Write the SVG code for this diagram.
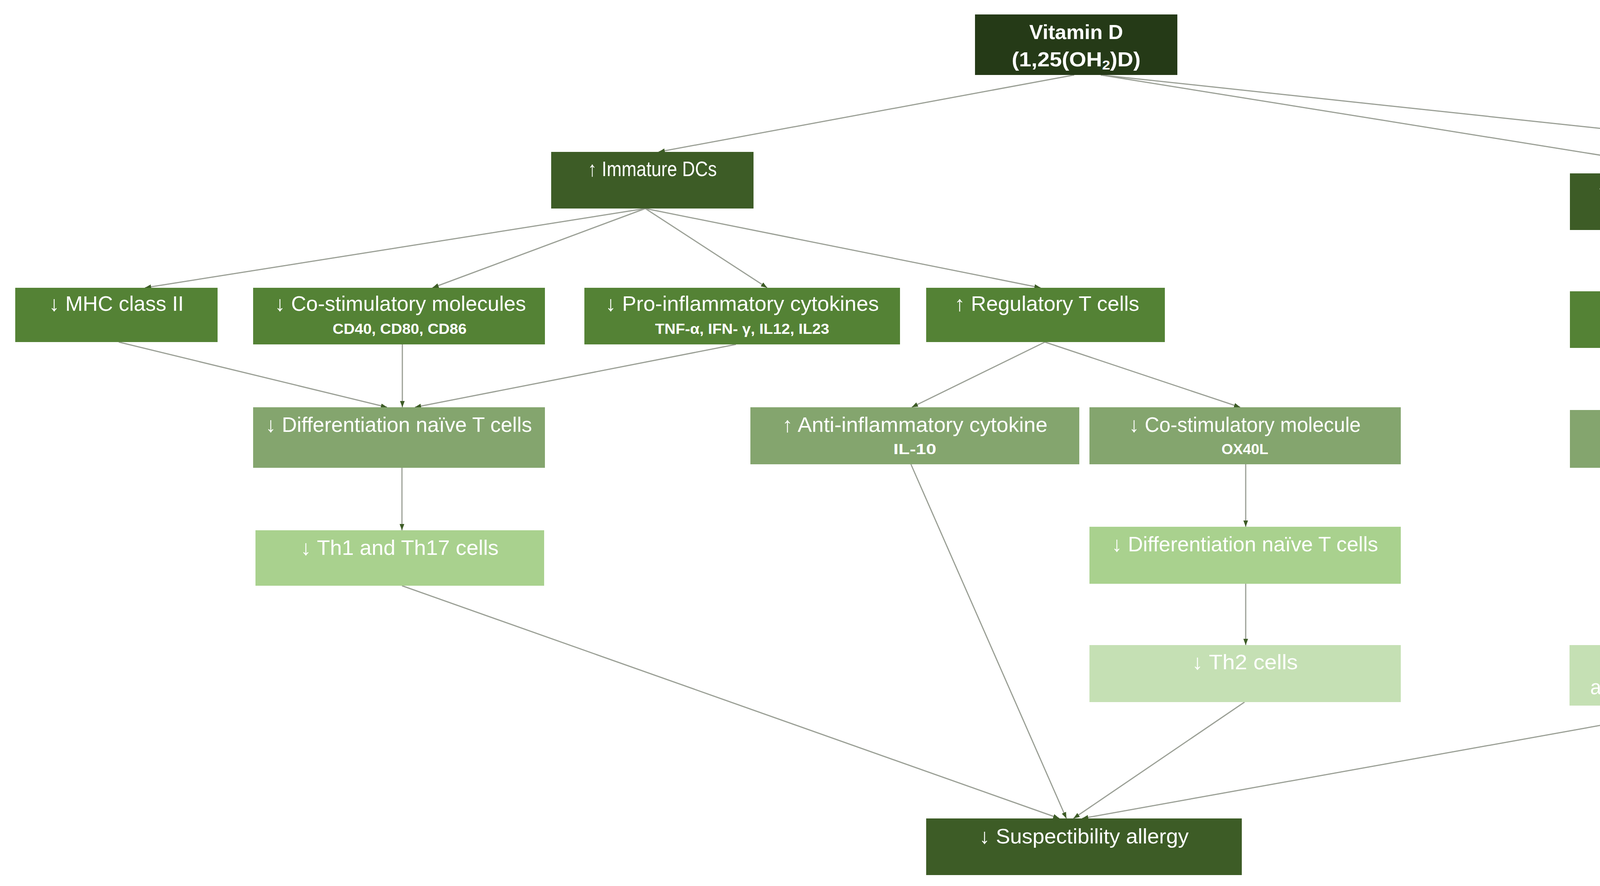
<svg xmlns="http://www.w3.org/2000/svg" width="5602" height="2269" viewBox="0 0 5602 2269">
<style>
text{font-family:"Liberation Sans Narrow","Liberation Sans",Arial,sans-serif;fill:#fff;text-anchor:middle}
.t{font-size:54px}
.s{font-size:36px;font-weight:bold}
.b{font-size:52px;font-weight:bold}
.c0{fill:#253A17}.c1{fill:#3D5C26}.c2{fill:#548235}.c3{fill:#84A56E}.c4{fill:#A9D18E}.c5{fill:#C5E0B4}
#edges line{stroke:#9A9F95;stroke-width:3;marker-end:url(#ah)}
</style>
<defs>
<marker id="ah" markerUnits="userSpaceOnUse" markerWidth="16" markerHeight="24" refX="16" refY="8" orient="auto" viewBox="0 0 16 16">
<path d="M0,2 L16,8 L0,14 Z" fill="#3D5C26"/>
</marker>
</defs>
<g id="edges">
<line x1="2750" y1="192" x2="1686" y2="389"/>
<line x1="2818" y1="192" x2="4387" y2="444"/>
<line x1="2818" y1="192" x2="5173" y2="444"/>
<line x1="1652" y1="534" x2="371" y2="737"/>
<line x1="1652" y1="534" x2="1107" y2="737"/>
<line x1="1652" y1="534" x2="1964" y2="737"/>
<line x1="1652" y1="534" x2="2664" y2="737"/>
<line x1="304" y1="876" x2="991" y2="1043"/>
<line x1="1030" y1="882" x2="1030" y2="1043"/>
<line x1="1884" y1="882" x2="1062" y2="1043"/>
<line x1="2675" y1="876" x2="2334" y2="1043"/>
<line x1="2675" y1="876" x2="3175" y2="1043"/>
<line x1="4387" y1="589" x2="4387" y2="746"/>
<line x1="4387" y1="891" x2="4387" y2="1050"/>
<line x1="5177" y1="589" x2="4614" y2="1050"/>
<line x1="5183" y1="589" x2="5183" y2="1050"/>
<line x1="1029" y1="1198" x2="1029" y2="1358"/>
<line x1="3189" y1="1189" x2="3189" y2="1349"/>
<line x1="3189" y1="1495" x2="3189" y2="1652"/>
<line x1="4379" y1="1198" x2="4379" y2="1652"/>
<line x1="5196" y1="1198" x2="4400" y2="1652"/>
<line x1="1029" y1="1500" x2="2712" y2="2096"/>
<line x1="2332" y1="1189" x2="2730" y2="2096"/>
<line x1="3186" y1="1798" x2="2748" y2="2096"/>
<line x1="4379" y1="1807" x2="2770" y2="2096"/>
</g>
<g id="vitd"><rect class="c0" x="2496" y="37" width="518" height="155"/><text class="b" x="2755" y="100" textLength="240" lengthAdjust="spacingAndGlyphs">Vitamin D</text><text class="b" x="2755" y="170" textLength="330" lengthAdjust="spacingAndGlyphs">(1,25(OH<tspan font-size="34" dy="8">2</tspan><tspan dy="-8">)D)</tspan></text></g>
<g id="immdc"><rect class="c1" x="1411" y="389" width="518" height="145"/><text class="t" x="1670" y="451" textLength="330" lengthAdjust="spacingAndGlyphs">↑ Immature DCs</text></g>
<g id="tjp"><rect class="c1" x="4019" y="444" width="729" height="145"/><text class="t" x="4383" y="506" textLength="590" lengthAdjust="spacingAndGlyphs">↑ Tight junction proteins</text><text class="s" x="4383" y="563" textLength="443" lengthAdjust="spacingAndGlyphs">(ZO-1, claudin-1 and -2)</text></g>
<g id="amp"><rect class="c1" x="4819" y="444" width="733" height="145"/><text class="t" x="5185" y="506" textLength="586" lengthAdjust="spacingAndGlyphs">↑ Antimicrobial peptides</text><text class="s" x="5185" y="563" textLength="272" lengthAdjust="spacingAndGlyphs">(CAMP, defβ2)</text></g>
<g id="mhc"><rect class="c2" x="39" y="737" width="518" height="139"/><text class="t" x="298" y="796" textLength="345" lengthAdjust="spacingAndGlyphs">↓ MHC class II</text></g>
<g id="costim"><rect class="c2" x="648" y="737" width="747" height="145"/><text class="t" x="1025" y="796" textLength="643" lengthAdjust="spacingAndGlyphs">↓ Co-stimulatory molecules</text><text class="s" x="1023" y="855" textLength="343" lengthAdjust="spacingAndGlyphs">CD40, CD80, CD86</text></g>
<g id="proinf"><rect class="c2" x="1496" y="737" width="808" height="145"/><text class="t" x="1900" y="796" textLength="700" lengthAdjust="spacingAndGlyphs">↓ Pro-inflammatory cytokines</text><text class="s" x="1900" y="855" textLength="446" lengthAdjust="spacingAndGlyphs">TNF-α, IFN- γ, IL12, IL23</text></g>
<g id="treg"><rect class="c2" x="2371" y="737" width="611" height="139"/><text class="t" x="2680" y="796" textLength="473" lengthAdjust="spacingAndGlyphs">↑ Regulatory T cells</text></g>
<g id="tj"><rect class="c2" x="4019" y="746" width="729" height="145"/><text class="t" x="4383" y="808" textLength="402" lengthAdjust="spacingAndGlyphs">↑ Tight junctions</text></g>
<g id="diff1"><rect class="c3" x="648" y="1043" width="747" height="155"/><text class="t" x="1021" y="1106" textLength="682" lengthAdjust="spacingAndGlyphs">↓ Differentiation naïve T cells</text></g>
<g id="antiinf"><rect class="c3" x="1921" y="1043" width="842" height="146"/><text class="t" x="2342" y="1106" textLength="679" lengthAdjust="spacingAndGlyphs">↑ Anti-inflammatory cytokine</text><text class="s" x="2342" y="1163" textLength="110" lengthAdjust="spacingAndGlyphs">IL-10</text></g>
<g id="ox40l"><rect class="c3" x="2789" y="1043" width="797" height="146"/><text class="t" x="3187" y="1106" textLength="593" lengthAdjust="spacingAndGlyphs">↓ Co-stimulatory molecule</text><text class="s" x="3187" y="1163" textLength="120" lengthAdjust="spacingAndGlyphs">OX40L</text></g>
<g id="epi"><rect class="c3" x="4019" y="1050" width="729" height="148"/><text class="t" x="4383" y="1113" textLength="445" lengthAdjust="spacingAndGlyphs">↑ Epithelial barrier</text></g>
<g id="def"><rect class="c3" x="4816" y="1050" width="732" height="148"/><text class="t" x="5182" y="1113" textLength="629" lengthAdjust="spacingAndGlyphs">↑ Defense against antigens</text></g>
<g id="th1"><rect class="c4" x="654" y="1358" width="739" height="142"/><text class="t" x="1023" y="1421" textLength="507" lengthAdjust="spacingAndGlyphs">↓ Th1 and Th17 cells</text></g>
<g id="diff2"><rect class="c4" x="2789" y="1349" width="797" height="146"/><text class="t" x="3187" y="1412" textLength="682" lengthAdjust="spacingAndGlyphs">↓ Differentiation naïve T cells</text></g>
<g id="th2"><rect class="c5" x="2789" y="1652" width="797" height="146"/><text class="t" x="3187" y="1714" textLength="271" lengthAdjust="spacingAndGlyphs">↓ Th2 cells</text></g>
<g id="exc"><rect class="c5" x="4018" y="1652" width="725" height="155"/><text class="t" x="4380" y="1714" textLength="511" lengthAdjust="spacingAndGlyphs">↓ Excessive exposure</text><text class="t" x="4380" y="1778" textLength="618" lengthAdjust="spacingAndGlyphs">antigens to immune system</text></g>
<g id="susp"><rect class="c1" x="2371" y="2096" width="808" height="145"/><text class="t" x="2775" y="2160" textLength="536" lengthAdjust="spacingAndGlyphs">↓ Suspectibility allergy</text></g>
</svg>
